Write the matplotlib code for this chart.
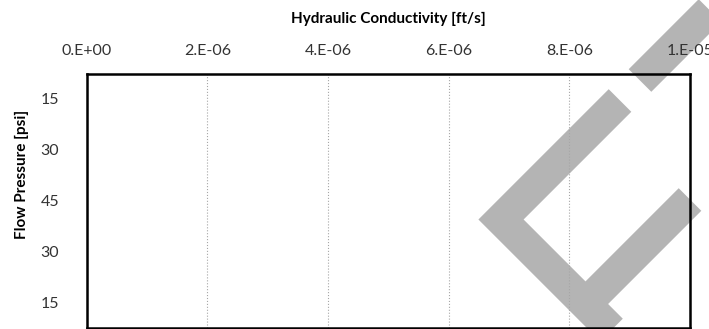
import matplotlib
matplotlib.use("Agg")
from matplotlib import pyplot as plt
from matplotlib.ticker import FuncFormatter, MultipleLocator

# flow pressure steps (up then down), no conductivity measured yet
pressure_labels = ['15', '30', '45', '30', '15']
conductivity = [0, 0, 0, 0, 0]

x_max = 1e-5
x_step = 2e-6

# grey background watermark strokes, in page pixels
mark_a = [(640, 80.5), (735, -14.5)]
mark_b = [(620, 100.5), (501, 219.5), (640, 358.5)]
mark_c = [(690, 199.5), (586, 303.5)]
mark_d = [(384, 335), (340, 379)]

plt.rcParams['font.family'] = ['Lato', 'DejaVu Sans']

fig = plt.figure(figsize=(7.09, 3.29), dpi=100)
fig.patch.set_facecolor('white')

# watermark layer sits behind the chart
bg = fig.add_axes([0, 0, 1, 1], zorder=0)
bg.set_xlim(0, 709)
bg.set_ylim(329, 0)
bg.axis('off')
for stroke in (mark_a, mark_b, mark_c, mark_d):
    xs = [p[0] for p in stroke]
    ys = [p[1] for p in stroke]
    bg.plot(xs, ys, color='#b4b4b4', lw=23, solid_capstyle='butt',
            solid_joinstyle='miter')

ax = fig.add_axes([86.8 / 709, 1 / 329, (690 - 86.8) / 709, (328 - 73.5) / 329],
                  zorder=1)
ax.patch.set_alpha(0)

pos = list(range(len(pressure_labels)))
ax.barh(pos, conductivity, height=0.6, color='#4472c4', linewidth=0)

ax.set_ylim(len(pressure_labels) - 0.5, -0.5)
ax.set_yticks(pos)
ax.set_yticklabels(pressure_labels)

ax.set_xlim(0, x_max)
ax.xaxis.set_major_locator(MultipleLocator(x_step))
ax.xaxis.set_major_formatter(FuncFormatter(lambda v, p: f"{v:#.0E}"))
ax.xaxis.tick_top()
ax.xaxis.set_label_position('top')

ax.tick_params(axis='x', length=0, pad=11, labelsize=11.5, labelcolor='#333333')
ax.tick_params(axis='y', length=0, pad=20, labelsize=11.5, labelcolor='#333333')

ax.grid(axis='x', color='#a6a6a6', linestyle=':', linewidth=0.8)
ax.set_axisbelow(True)

for s in ax.spines.values():
    s.set_linewidth(1.8)
    s.set_color('black')

ax.set_xlabel('Hydraulic Conductivity [ft/s]', fontsize=11, fontweight='bold',
              labelpad=15)
ax.set_ylabel('Flow Pressure [psi]', fontsize=11, fontweight='bold')
ax.yaxis.set_label_coords(-0.095, 0.605)

plt.savefig('out.png', dpi=100)
